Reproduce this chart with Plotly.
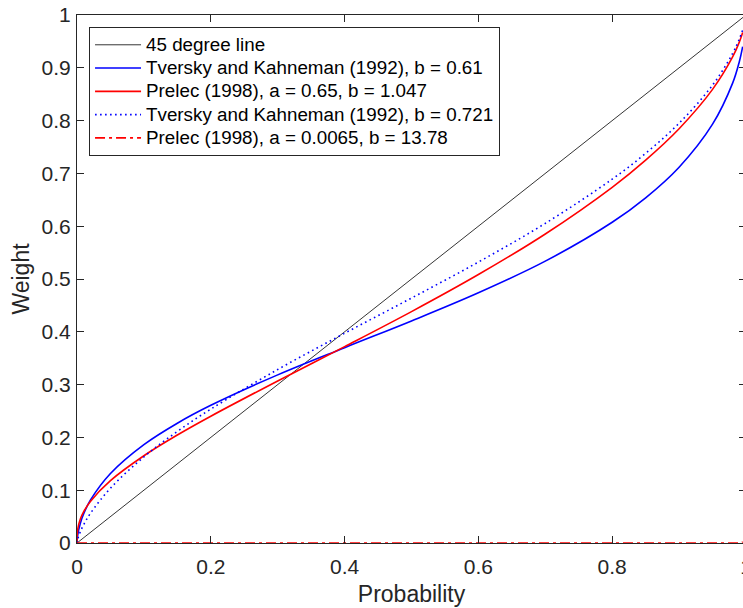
import plotly.graph_objects as go

# probabilities (x values)
p = [0, 0.001, 0.005, 0.01, 0.02, 0.05, 0.1, 0.15, 0.2, 0.3, 0.4, 0.5,
     0.6, 0.7, 0.8, 0.85, 0.9, 0.95, 0.98, 0.99, 0.995]

line45_x = [0, 1]
line45_y = [0, 1]

tk_061 = [0, 0.0145, 0.0372, 0.0553, 0.0811, 0.1316, 0.1863, 0.2269, 0.2608,
          0.3184, 0.3700, 0.4206, 0.4739, 0.5338, 0.6074, 0.6537, 0.7117,
          0.7932, 0.8710, 0.9116, 0.9402]
prelec_065 = [0, 0.0253, 0.0453, 0.0593, 0.0788, 0.1181, 0.1652, 0.2045, 0.2401,
              0.3069, 0.3719, 0.4382, 0.5084, 0.5853, 0.6737, 0.7252, 0.7847,
              0.8591, 0.9205, 0.9487, 0.9671]
tk_0721 = [0, 0.0068, 0.0214, 0.0347, 0.0560, 0.1038, 0.1631, 0.2113, 0.2536,
           0.3286, 0.3972, 0.4639, 0.5321, 0.6054, 0.6891, 0.7380, 0.7951,
           0.8672, 0.9271, 0.9543, 0.9716]
prelec_00065 = [0, 0, 0, 0, 0, 0, 0, 0, 0, 0, 0, 0, 0, 0, 0, 0, 0, 0, 0, 0, 0.002]

names = ["45 degree line",
         "Tversky and Kahneman (1992), b = 0.61",
         "Prelec (1998), a = 0.65, b = 1.047",
         "Tversky and Kahneman (1992), b = 0.721",
         "Prelec (1998), a = 0.0065, b = 13.78"]

x_ticks = [0, 0.2, 0.4, 0.6, 0.8, 1]
x_tick_labels = ["0", "0.2", "0.4", "0.6", "0.8", "1"]
y_ticks = [0, 0.1, 0.2, 0.3, 0.4, 0.5, 0.6, 0.7, 0.8, 0.9, 1]
y_tick_labels = ["0", "0.1", "0.2", "0.3", "0.4", "0.5", "0.6", "0.7", "0.8", "0.9", "1"]

FONT = "Liberation Sans, Arial, Helvetica, sans-serif"
AX = "#262626"


def leg(name):
    # larger rendered text, compact legend row spacing
    return '<span style="font-size:18.8px">' + name + '</span>'


fig = go.Figure()
fig.add_trace(go.Scatter(x=line45_x, y=line45_y, mode="lines", name=leg(names[0]),
                         line=dict(color="black", width=0.8)))
fig.add_trace(go.Scatter(x=p, y=tk_061, mode="lines", name=leg(names[1]),
                         line=dict(color="#0000ff", width=1.6, shape="spline")))
fig.add_trace(go.Scatter(x=p, y=prelec_065, mode="lines", name=leg(names[2]),
                         line=dict(color="#ff0000", width=1.6, shape="spline")))
fig.add_trace(go.Scatter(x=p, y=tk_0721, mode="lines", name=leg(names[3]),
                         line=dict(color="#0000ff", width=1.6, shape="spline", dash="1.6px,3.4px")))
fig.add_trace(go.Scatter(x=p, y=prelec_00065, mode="lines", name=leg(names[4]),
                         line=dict(color="#ff0000", width=1.6, dash="10px,4px,3px,4px")))

axis_common = dict(showline=True, linecolor=AX, linewidth=1, mirror="ticks",
                   ticks="inside", ticklen=7, tickcolor=AX, tickwidth=1,
                   showgrid=False, zeroline=False, automargin=False,
                   ticklabeloverflow="allow",
                   tickfont=dict(family=FONT, size=21, color=AX))

# the original figure is cropped on the right: its axes box runs slightly past the image edge
fig.update_layout(
    width=750, height=608,
    margin=dict(l=77, r=4, t=15, b=65),
    paper_bgcolor="white", plot_bgcolor="white",
    font=dict(family=FONT, color=AX),
    showlegend=True,
    legend=dict(x=0.018, y=0.977, xanchor="left", yanchor="top",
                bgcolor="white", bordercolor=AX, borderwidth=1,
                font=dict(family=FONT, size=15.6, color="black"),
                tracegroupgap=0, itemwidth=46),
    xaxis=dict(range=[0, 1], tickvals=x_ticks, ticktext=x_tick_labels,
               ticklabelstandoff=5,
               title=dict(text="Probability", font=dict(family=FONT, size=23, color=AX), standoff=8),
               **axis_common),
    yaxis=dict(range=[0, 1], tickvals=y_ticks, ticktext=y_tick_labels,
               ticklabelstandoff=1,
               title=dict(text="Weight", font=dict(family=FONT, size=23, color=AX), standoff=5),
               **axis_common),
)

fig.write_html("out.html", config={"displayModeBar": False},
               post_script="document.body.style.margin='0';document.body.style.overflow='hidden';")
